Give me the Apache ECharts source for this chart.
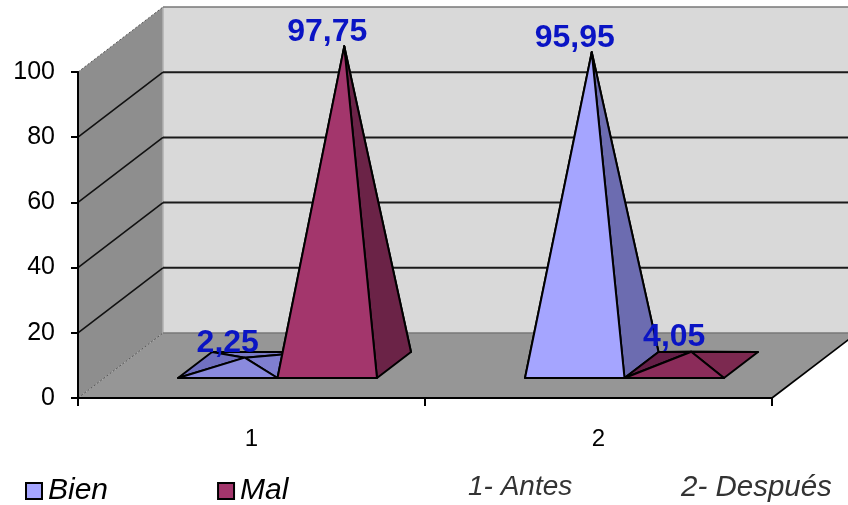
<!DOCTYPE html>
<html>
<head>
<meta charset="utf-8">
<style>html,body{margin:0;padding:0;background:#fff}#chart{width:848px;height:505px}</style>
<script src="https://cdn.jsdelivr.net/npm/echarts@6/dist/echarts.min.js"></script>
</head>
<body>
<div id="chart"></div>
<script>
// Survey results before and after, as pyramids in a box with fake depth.
const categories = ['1', '2'];
const bien = [2.25, 95.95];
const mal = [97.75, 4.05];
const valueTicks = [0, 20, 40, 60, 80, 100];
const FONT = '"Liberation Sans", Arial, sans-serif';

// Oblique projection: how far the floor recedes, and where the bases sit on it.
const ROOM_DEPTH = [85, -65];
const BASE_FRONT = [26, -20];
const BASE_DEPTH = [34, -26];
const BASE_WIDTH = 0.2867;      // share of a category band
const LABEL_LIFT = 47.5;

const palettes = {
  Bien: {
    legend: '#a5a5ff',
    tall: { front: '#a5a5ff', right: '#6c6cb0', left: '#6c6cb0', back: '#6c6cb0' },
    flat: { front: '#8a8ade', right: '#7f7fd0', left: '#7070c0', back: '#7b7bc8' }
  },
  Mal: {
    legend: '#a3366c',
    tall: { front: '#a3366c', right: '#6b2347', left: '#6b2347', back: '#6b2347' },
    flat: { front: '#8b2c5a', right: '#7c2950', left: '#651f47', back: '#7a284f' }
  }
};

const add = (p, d, k = 1) => [p[0] + d[0] * k, p[1] + d[1] * k];

function renderRoom(params, api) {
  const floorY = api.coord([0, 0])[1];
  const topY = api.coord([0, 100])[1];
  const x0 = params.coordSys.x;
  const x1 = x0 + params.coordSys.width;
  const poly = (points, fill) => ({ type: 'polygon', shape: { points }, style: { fill, stroke: null } });
  const line = (a, b, stroke, lineWidth, lineDash) => ({
    type: 'line',
    shape: { x1: a[0], y1: a[1], x2: b[0], y2: b[1] },
    style: { stroke, lineWidth, lineDash: lineDash || null }
  });
  const children = [
    poly([add([x0, topY], ROOM_DEPTH), add([x1, topY], ROOM_DEPTH), add([x1, floorY], ROOM_DEPTH), add([x0, floorY], ROOM_DEPTH)], '#d9d9d9'),
    poly([[x0, topY], add([x0, topY], ROOM_DEPTH), add([x0, floorY], ROOM_DEPTH), [x0, floorY]], '#8e8e8e'),
    poly([[x0, floorY], [x1, floorY], add([x1, floorY], ROOM_DEPTH), add([x0, floorY], ROOM_DEPTH)], '#969696'),
    line(add([x0, topY], ROOM_DEPTH), add([x0, floorY], ROOM_DEPTH), '#b0b0b0', 1.5)
  ];
  valueTicks.forEach((v) => {
    const y = api.coord([0, v])[1];
    const edge = v === 0 || v === 100;
    children.push(line(add([x0, y], ROOM_DEPTH), add([x1, y], ROOM_DEPTH), edge ? '#777' : '#1a1a1a', edge ? 1.5 : 2));
    children.push(edge
      ? line([x0, y], add([x0, y], ROOM_DEPTH), '#555', 1, [2, 2])
      : line([x0, y], add([x0, y], ROOM_DEPTH), '#111', 1.6));
  });
  children.push(line([x1, floorY], add([x1, floorY], ROOM_DEPTH), '#000', 1.6));
  return { type: 'group', children };
}

function pyramidRenderer(name, side) {
  return function (params, api) {
    const cat = api.value(0);
    const val = api.value(1);
    const band = api.size([1, 0])[0];
    const baseW = band * BASE_WIDTH;
    const top = api.coord([cat, val]);
    const zero = api.coord([cat, 0]);
    const labelX = zero[0] + side * baseW / 2 + BASE_FRONT[0];

    const fl = [labelX - baseW / 2, zero[1] + BASE_FRONT[1]];
    const fr = [labelX + baseW / 2, zero[1] + BASE_FRONT[1]];
    const bl = add(fl, BASE_DEPTH);
    const br = add(fr, BASE_DEPTH);
    const mid = add([labelX, fl[1]], BASE_DEPTH, 0.5);
    const apex = [mid[0], mid[1] - (zero[1] - top[1])];

    const shade = palettes[name][val < 10 ? 'flat' : 'tall'];
    const face = (a, b, fill) => ({
      type: 'polygon',
      shape: { points: [a, b, apex] },
      style: { fill, stroke: '#000', lineWidth: 2, lineJoin: 'round' }
    });
    return {
      type: 'group',
      children: [
        face(bl, br, shade.back),
        face(fl, bl, shade.left),
        face(fr, br, shade.right),
        face(fl, fr, shade.front),
        {
          type: 'text',
          z2: 20,
          style: {
            x: labelX,
            y: top[1] - LABEL_LIFT,
            text: val.toFixed(2).replace('.', ','),
            fill: '#0a14c4',
            font: 'bold 32px ' + FONT,
            align: 'center',
            verticalAlign: 'middle'
          }
        }
      ]
    };
  };
}

const pairs = (values) => values.map((v, i) => [i, v]);

const chart = echarts.init(document.getElementById('chart'), null, { renderer: 'canvas' });
chart.setOption({
  animation: false,
  backgroundColor: '#fff',
  textStyle: { fontFamily: FONT },
  grid: { left: 78, right: 76, top: 72, bottom: 107, containLabel: false },
  xAxis: {
    type: 'category',
    data: categories,
    z: 5,
    boundaryGap: true,
    axisLine: { lineStyle: { color: '#000', width: 2 } },
    axisTick: { show: true, length: 8, alignWithLabel: false, lineStyle: { color: '#000', width: 2 } },
    axisLabel: { color: '#000', fontSize: 24, margin: 29, fontFamily: FONT },
    splitLine: { show: false }
  },
  yAxis: {
    type: 'value',
    min: 0,
    max: 100,
    interval: 20,
    z: 5,
    axisLine: { show: true, lineStyle: { color: '#000', width: 2 } },
    axisTick: { show: true, length: 7, lineStyle: { color: '#000', width: 2 } },
    axisLabel: { color: '#000', fontSize: 25, margin: 23, fontFamily: FONT },
    splitLine: { show: false }
  },
  legend: {
    left: 25,
    top: 476,
    padding: 0,
    itemWidth: 16,
    itemHeight: 16,
    itemGap: 109,
    textStyle: { fontSize: 30, fontStyle: 'italic', color: '#000', fontFamily: FONT, padding: [0, 0, 0, 1] },
    data: [
      { name: 'Bien', icon: 'rect', itemStyle: { color: palettes.Bien.legend, borderColor: '#000', borderWidth: 2 } },
      { name: 'Mal', icon: 'rect', itemStyle: { color: palettes.Mal.legend, borderColor: '#000', borderWidth: 2 } }
    ]
  },
  graphic: [
    { type: 'text', left: 468, top: 473, style: { text: '1- Antes', font: 'italic 28px ' + FONT, fill: '#333' } },
    { type: 'text', left: 681, top: 473, style: { text: '2- Después', font: 'italic 29.5px ' + FONT, fill: '#333' } }
  ],
  series: [
    { type: 'custom', name: 'room', silent: true, z: 1, data: [[0, 0]], renderItem: renderRoom },
    { type: 'custom', name: 'Bien', z: 2, itemStyle: { color: palettes.Bien.legend }, data: pairs(bien), encode: { x: 0, y: 1 }, renderItem: pyramidRenderer('Bien', -1) },
    { type: 'custom', name: 'Mal', z: 3, itemStyle: { color: palettes.Mal.legend }, data: pairs(mal), encode: { x: 0, y: 1 }, renderItem: pyramidRenderer('Mal', 1) }
  ]
});
</script>
</body>
</html>
